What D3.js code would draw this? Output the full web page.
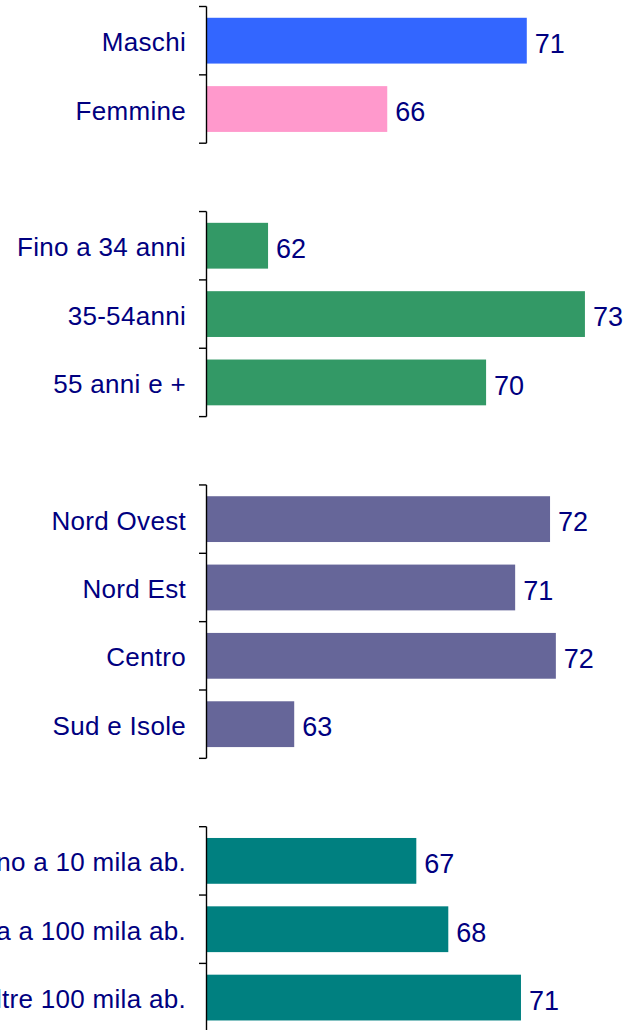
<!DOCTYPE html>
<html>
<head>
<meta charset="utf-8">
<script src="https://cdn.jsdelivr.net/npm/d3@7"></script>
<style>
  html, body { margin: 0; padding: 0; background: #fff; }
  svg { display: block; }
</style>
</head>
<body>
<script>
// ---- Data ----
const genderCats = ["Maschi", "Femmine"];
const genderVals = [71.0, 66.2];
const genderColors = ["#3366FF", "#FF99CC"];

const ageCats = ["Fino a 34 anni", "35-54anni", "55 anni e +"];
const ageVals = [62.1, 73.0, 69.6];
const ageColors = ["#339966", "#339966", "#339966"];

const areaCats = ["Nord Ovest", "Nord Est", "Centro", "Sud e Isole"];
const areaVals = [71.8, 70.6, 72.0, 63.0];
const areaColors = ["#666699", "#666699", "#666699", "#666699"];

const sizeCats = ["Fino a 10 mila ab.", "Da 10 mila a 100 mila ab.", "Oltre 100 mila ab."];
const sizeVals = [67.2, 68.3, 70.8];
const sizeColors = ["#008080", "#008080", "#008080"];

const xDomain = [60, 74];

// ---- Build ----
const groups = [
  { cats: genderCats, vals: genderVals, colors: genderColors },
  { cats: ageCats, vals: ageVals, colors: ageColors },
  { cats: areaCats, vals: areaVals, colors: areaColors },
  { cats: sizeCats, vals: sizeVals, colors: sizeColors }
];

const W = 637, H = 1030;
const svg = d3.select("body").append("svg").attr("width", W).attr("height", H);

const slots = [];
groups.forEach((g, gi) => {
  if (gi > 0) slots.push("__gap" + gi);
  g.cats.forEach(c => slots.push(c));
});

const pad = 0.33;
const y = d3.scaleBand().domain(slots).range([6.5, 1031.75])
  .paddingInner(pad).paddingOuter(pad / 2);
const step = y.step();
const x = d3.scaleLinear().domain(xDomain).range([207, 614]);

const axisX = 206.5;
const labelColor = "#000080";
const font = "'Liberation Sans', Arial, sans-serif";

groups.forEach(g => {
  const top = y(g.cats[0]) - step * pad / 2;
  const bounds = d3.range(g.cats.length + 1).map(i => top + i * step);

  // bars
  svg.append("g").selectAll("rect").data(g.cats).join("rect")
    .attr("x", x(xDomain[0]))
    .attr("y", c => y(c))
    .attr("width", (c, i) => x(g.vals[i]) - x(xDomain[0]))
    .attr("height", y.bandwidth())
    .attr("fill", (c, i) => g.colors[i]);

  // axis line & ticks
  const ax = svg.append("g").attr("stroke", "#000").attr("stroke-width", 1.4);
  ax.append("line")
    .attr("x1", axisX).attr("x2", axisX)
    .attr("y1", bounds[0]).attr("y2", bounds[bounds.length - 1]);
  ax.selectAll("line.t").data(bounds).join("line").attr("class", "t")
    .attr("x1", axisX - 7.5).attr("x2", axisX)
    .attr("y1", d => d).attr("y2", d => d);

  // category labels
  svg.append("g").selectAll("text").data(g.cats).join("text")
    .attr("x", 186)
    .attr("y", c => y(c) + y.bandwidth() / 2 + 10.6)
    .attr("text-anchor", "end")
    .attr("font-family", font)
    .attr("font-size", 26)
    .attr("letter-spacing", "0.3px")
    .attr("fill", labelColor)
    .text(c => c);

  // value labels
  svg.append("g").selectAll("text").data(g.cats).join("text")
    .attr("x", (c, i) => x(g.vals[i]) + 8)
    .attr("y", c => y(c) + y.bandwidth() / 2 + 12.3)
    .attr("font-family", font)
    .attr("font-size", 27)
    .attr("fill", labelColor)
    .text((c, i) => Math.round(g.vals[i]));
});
</script>
</body>
</html>
